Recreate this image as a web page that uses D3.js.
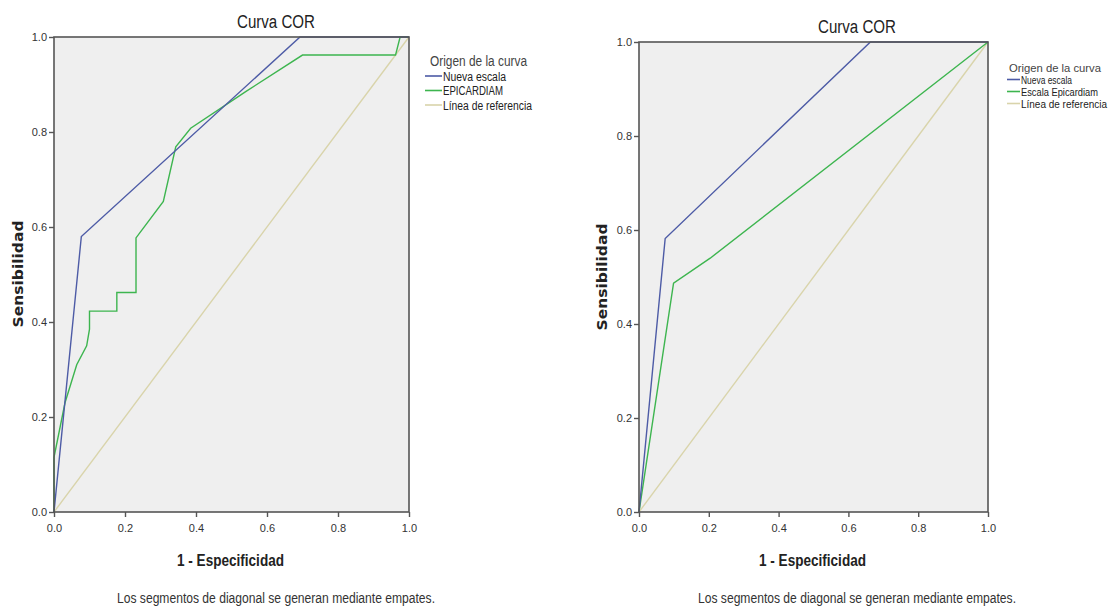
<!DOCTYPE html>
<html>
<head>
<meta charset="utf-8">
<script src="https://cdn.jsdelivr.net/npm/d3@7"></script>
<style>
  body { margin: 0; background: #fff; }
  svg { display: block; }
  text { font-family: "Liberation Sans", Arial, sans-serif; fill: #222; }
</style>
</head>
<body>
<svg width="1113" height="607"></svg>
<script>
// tick labels
const ticks = [0, 0.2, 0.4, 0.6, 0.8, 1.0]

// left chart: 1 - especificidad (x) / sensibilidad (y)
const leftNuevaX = [0, 0.077, 0.693, 1]
const leftNuevaY = [0, 0.58, 1, 1]
const leftEpiX = [0, 0, 0.031, 0.064, 0.092, 0.1, 0.1, 0.177, 0.177, 0.231, 0.231, 0.308, 0.343, 0.385, 0.54, 0.70, 0.962, 0.975, 1]
const leftEpiY = [0, 0.115, 0.23, 0.31, 0.35, 0.385, 0.423, 0.423, 0.462, 0.462, 0.577, 0.654, 0.769, 0.808, 0.885, 0.962, 0.962, 1, 1]

// right chart
const rightNuevaX = [0, 0.075, 0.663, 1]
const rightNuevaY = [0, 0.582, 1, 1]
const rightEpiX = [0, 0.099, 0.204, 1]
const rightEpiY = [0, 0.487, 0.54, 1]

const refX = [0, 1]
const refY = [0, 1]

const colors = { nueva: "#4d5ba6", epi: "#3db54f", ref: "#d9d4ab" }

const svg = d3.select("svg")

const toPoints = (xs, ys) => xs.map((x, i) => [x, ys[i]])

// text squeezed to a given width (the original uses a narrow font)
const narrow = (parent, x, y, str, size, width, anchor) => {
    return parent.append("text")
        .attr("x", x).attr("y", y)
        .attr("text-anchor", anchor || "start")
        .attr("textLength", width)
        .attr("lengthAdjust", "spacingAndGlyphs")
        .style("font-size", size + "px")
        .text(str)
}

const drawChart = (c) => {
    let xScale = d3.scaleLinear().domain([0, 1]).range([c.x0, c.x1])
    let yScale = d3.scaleLinear().domain([0, 1]).range([c.y0, c.y1])

    let g = svg.append("g")

    g.append("rect")
        .attr("x", c.x0).attr("y", c.y1)
        .attr("width", c.x1 - c.x0).attr("height", c.y0 - c.y1)
        .attr("fill", "#efefef")

    let line = d3.line().x(d => xScale(d[0])).y(d => yScale(d[1]))

    c.series.slice().reverse().forEach(s => {
        g.append("path")
            .datum(toPoints(s.x, s.y))
            .attr("d", line)
            .attr("fill", "none")
            .attr("stroke", s.color)
            .attr("stroke-width", 1.4)
    })

    // frame
    g.append("rect")
        .attr("x", c.x0).attr("y", c.y1)
        .attr("width", c.x1 - c.x0).attr("height", c.y0 - c.y1)
        .attr("fill", "none")
        .attr("stroke", "#555")
        .attr("stroke-width", 1.6)

    let xAxis = d3.axisBottom(xScale).tickValues(ticks).tickFormat(d3.format(".1f")).tickSize(5)
    let yAxis = d3.axisLeft(yScale).tickValues(ticks).tickFormat(d3.format(".1f")).tickSize(5)

    let gx = g.append("g")
        .attr("transform", "translate(0," + c.y0 + ")")
        .call(xAxis)
    let gy = g.append("g")
        .attr("transform", "translate(" + c.x0 + ",0)")
        .call(yAxis)

    ;[gx, gy].forEach(ax => {
        ax.select(".domain").remove()
        ax.selectAll("line").attr("stroke", "#555").attr("stroke-width", 1.4)
        ax.selectAll("text")
            .style("font-family", "'Liberation Sans', Arial, sans-serif")
            .style("font-size", "11px")
            .style("fill", "#333")
    })
    gx.selectAll("text").attr("dy", "1.05em")
    gy.selectAll("text").attr("dx", "1px")

    // title
    narrow(g, c.titleX, c.titleY, "Curva COR", 18, 78, "middle")

    // axis titles
    narrow(g, (c.x0 + c.x1) / 2 - 1, c.y0 + 54, "1 - Especificidad", 17, 107, "middle")
        .style("font-weight", "bold")

    g.append("text")
        .attr("transform", "translate(" + c.yLabelX + "," + c.yLabelY + ") rotate(-90)")
        .attr("text-anchor", "middle")
        .attr("textLength", 107)
        .attr("lengthAdjust", "spacingAndGlyphs")
        .style("font-family", "'DejaVu Sans', sans-serif")
        .style("font-size", "14px").style("font-weight", "bold")
        .text("Sensibilidad")

    // footnote
    narrow(g, c.noteX, 603, "Los segmentos de diagonal se generan mediante empates.", 14, 318, "middle")
        .style("fill", "#333")

    // legend
    narrow(g, c.legTitleX, c.legY, "Origen de la curva", c.legTitleSize, c.legTitleW)
        .style("fill", "#444")

    c.series.forEach((s, i) => {
        let yy = c.legY + c.legStep * (i + 1)
        g.append("line")
            .attr("x1", c.legX).attr("x2", c.legX + c.legLine)
            .attr("y1", yy - 4.5).attr("y2", yy - 4.5)
            .attr("stroke", s.color).attr("stroke-width", 1.6)
        narrow(g, c.legX + c.legLine + 1, yy, s.name, c.legSize, s.legW)
    })
}

drawChart({
    x0: 54, x1: 409, y0: 512, y1: 37,
    titleX: 276, titleY: 28,
    yLabelX: 23, yLabelY: 274, noteX: 276,
    legX: 425, legLine: 17, legY: 66, legStep: 14.5,
    legTitleX: 430, legTitleW: 97, legTitleSize: 14, legSize: 12.5,
    series: [
        { name: "Nueva escala", x: leftNuevaX, y: leftNuevaY, color: colors.nueva, legW: 63 },
        { name: "EPICARDIAM", x: leftEpiX, y: leftEpiY, color: colors.epi, legW: 60 },
        { name: "Línea de referencia", x: refX, y: refY, color: colors.ref, legW: 89 }
    ]
})

drawChart({
    x0: 639, x1: 988, y0: 512, y1: 42,
    titleX: 857, titleY: 33,
    yLabelX: 607, yLabelY: 277, noteX: 857,
    legX: 1007, legLine: 13, legY: 72, legStep: 12,
    legTitleX: 1009, legTitleW: 92, legTitleSize: 11.5, legSize: 10.5,
    series: [
        { name: "Nueva escala", x: rightNuevaX, y: rightNuevaY, color: colors.nueva, legW: 51 },
        { name: "Escala Epicardiam", x: rightEpiX, y: rightEpiY, color: colors.epi, legW: 77 },
        { name: "Línea de referencia", x: refX, y: refY, color: colors.ref, legW: 86 }
    ]
})
</script>
</body>
</html>
